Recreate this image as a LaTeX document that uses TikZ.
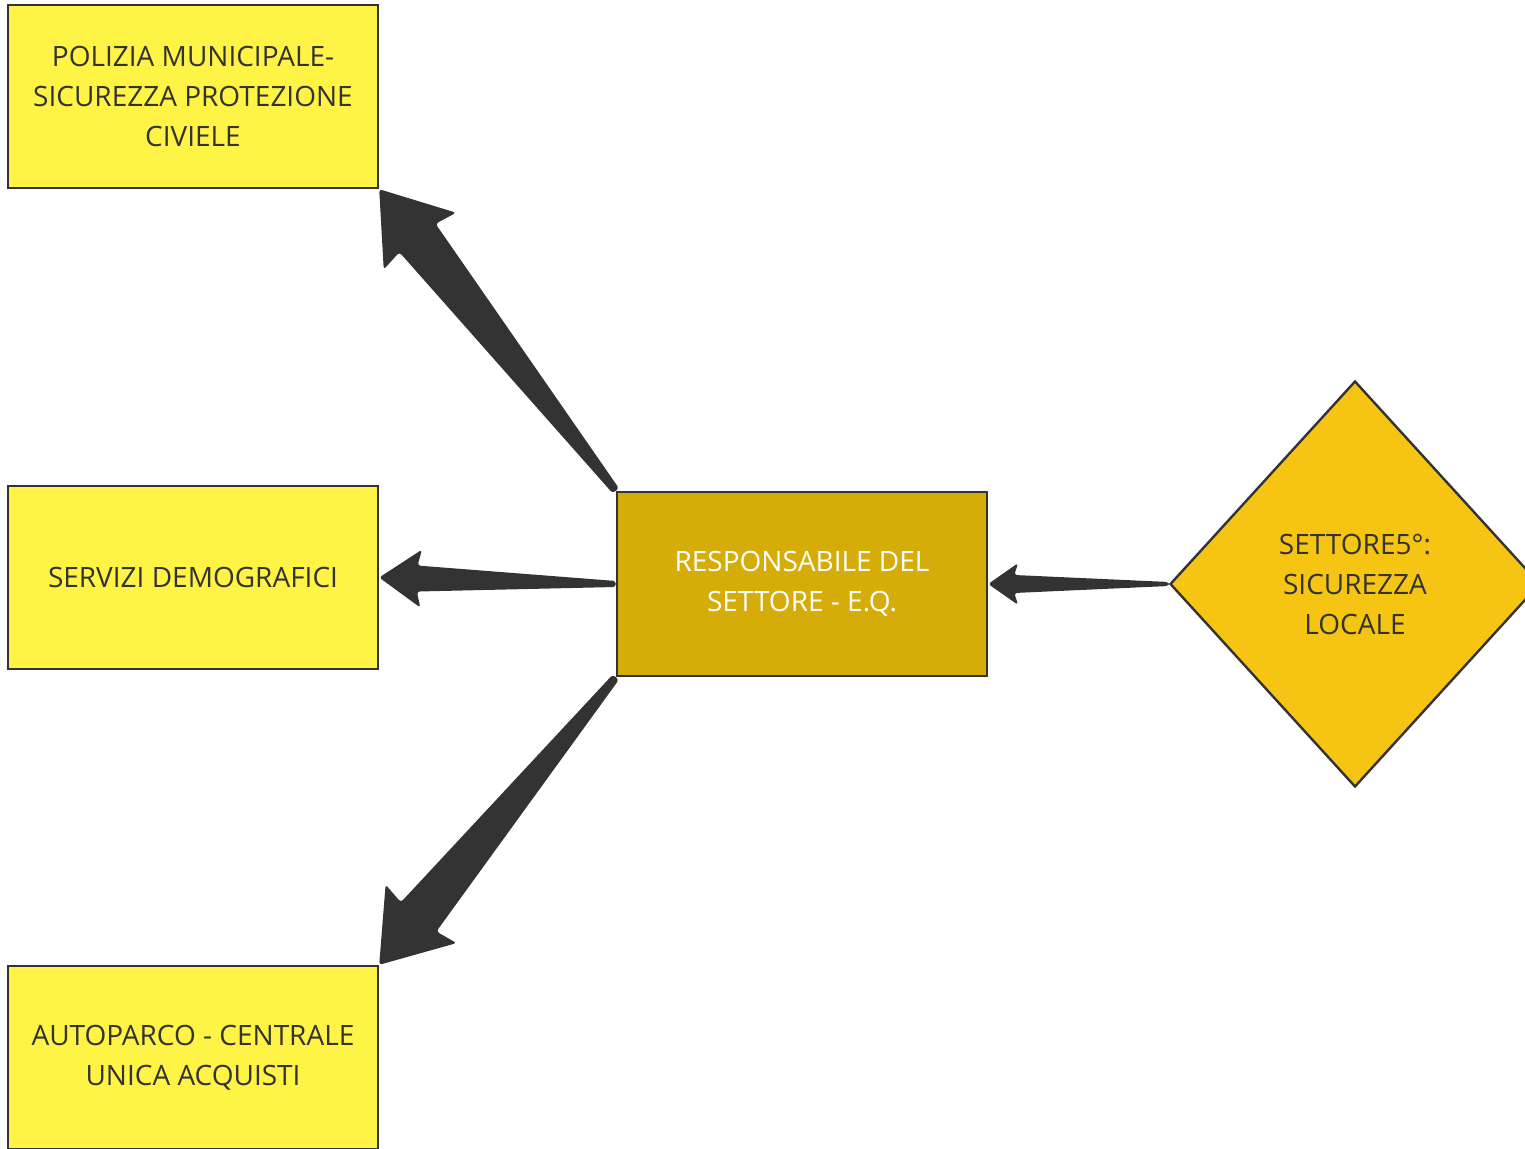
\documentclass[tikz,border=0pt]{standalone}
\usepackage{fontspec}
\setmainfont{Open Sans}
\usetikzlibrary{calc,shapes.geometric}
\definecolor{lightyel}{HTML}{FFF345}
\definecolor{goldbox}{HTML}{D6AC08}
\definecolor{diamcol}{HTML}{F6C514}
\definecolor{arrcol}{HTML}{333333}
\definecolor{txtcol}{HTML}{333333}
% #1 tail, #2 tip, #3 head length, #4 head half width, #5 notch length, #6 shaft half width at head, #7 tail half width
\newcommand\drawtaper[7]{%
  \coordinate (hh) at ($(#2)!#3!(#1)$);
  \coordinate (nn) at ($(#2)!#5!(#1)$);
  \fill[arrcol, rounded corners=1.5pt]
    (#2)
    -- ($(hh)!#4!90:(#1)$)
    -- ($(nn)!#6!90:(#1)$)
    -- ($(#1)!#7!-90:(#2)$)
    -- ($(#1)!#7!90:(#2)$)
    -- ($(nn)!#6!-90:(#1)$)
    -- ($(hh)!#4!-90:(#1)$)
    -- cycle;
}
\tikzset{
  yelbox/.style={draw=txtcol, line width=1.2pt, fill=lightyel, text=txtcol,
    minimum width=185pt, minimum height=91.5pt, align=center, inner sep=0pt,
    font=\fontsize{14}{20}\selectfont},
  goldrect/.style={draw=txtcol, line width=1.2pt, fill=goldbox, text=white,
    minimum width=185pt, minimum height=92pt, align=center, inner sep=0pt,
    font=\fontsize{14}{20}\selectfont},
  diam/.style={diamond, draw=txtcol, line width=1.2pt, fill=diamcol, text=txtcol,
    minimum width=185pt, minimum height=203pt, align=center, inner sep=0pt,
    font=\fontsize{14}{20}\selectfont},
}
\begin{document}
\begin{tikzpicture}[x=0.5pt, y=-0.5pt]
  \useasboundingbox (0,0) rectangle (1525,1149);
  \fill[white] (0,0) rectangle (1525,1149);
  \clip (0,0) rectangle (1525,1149);
  \node[yelbox] (pol) at (193,96.5) {POLIZIA MUNICIPALE-\\SICUREZZA PROTEZIONE\\CIVIELE};
  \node[yelbox] (serv) at (193,577.5) {SERVIZI DEMOGRAFICI};
  \node[yelbox] (auto) at (193,1057.5) {AUTOPARCO - CENTRALE\\UNICA ACQUISTI};
  \node[goldrect] (resp) at (802,584) {RESPONSABILE DEL\\SETTORE - E.Q.};
  \node[diam] (sett) at (1355,584) {SETTORE5°:\\SICUREZZA\\LOCALE};
  \drawtaper{resp.north west}{pol.south east}{33pt}{23pt}{31pt}{11.5pt}{2pt}
  \drawtaper{resp.west}{serv.east}{21pt}{14.5pt}{19pt}{6.5pt}{1.5pt}
  \drawtaper{resp.south west}{auto.north east}{33pt}{23pt}{31pt}{11.5pt}{2pt}
  \drawtaper{sett.west}{resp.east}{15pt}{10.5pt}{13pt}{4.5pt}{1pt}
\end{tikzpicture}
\end{document}
